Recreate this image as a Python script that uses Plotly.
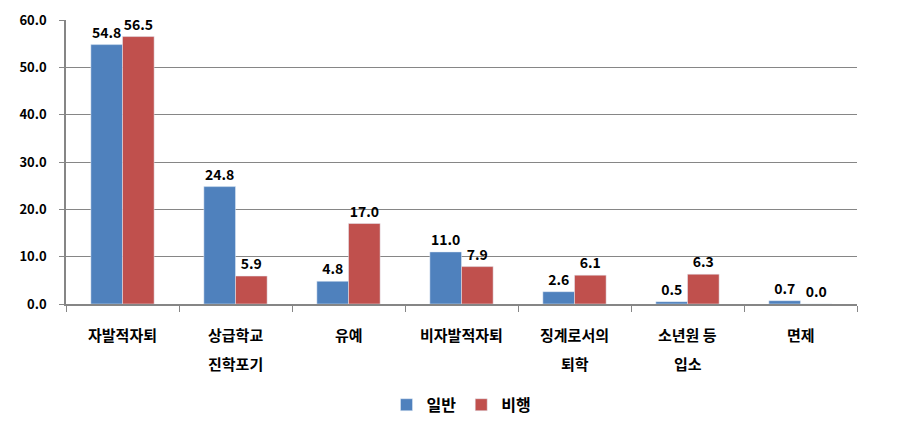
import plotly.graph_objects as go

categories = ["자발적자퇴", "상급학교 진학포기", "유예", "비자발적자퇴", "징계로서의 퇴학", "소년원 등 입소", "면제"]
category_lines = [["자발적자퇴"], ["상급학교", "진학포기"], ["유예"], ["비자발적자퇴"],
                  ["징계로서의", "퇴학"], ["소년원 등", "입소"], ["면제"]]
general = [54.8, 24.8, 4.8, 11.0, 2.6, 0.5, 0.7]
delinquent = [56.5, 5.9, 17.0, 7.9, 6.1, 6.3, 0.0]
y_ticks = [0, 10, 20, 30, 40, 50, 60]

FONT = "Noto Sans CJK KR"

fig = go.Figure()
fig.add_trace(go.Bar(
    name="일반", x=categories, y=general, marker_color="#4F81BD",
    text=[f"{v:.1f}" for v in general], textposition="outside",
    textfont=dict(family=FONT, size=14, color="black", weight="bold"),
    cliponaxis=False,
))
fig.add_trace(go.Bar(
    name="비행", x=categories, y=delinquent, marker_color="#C0504D",
    text=[f"{v:.1f}" for v in delinquent], textposition="outside",
    textfont=dict(family=FONT, size=14, color="black", weight="bold"),
    cliponaxis=False,
))

# x-axis category labels (with wider line spacing as in the reference)
for cat, lines in zip(categories, category_lines):
    for i, line in enumerate(lines):
        fig.add_annotation(
            x=cat, xref="x", y=0, yref="paper", yanchor="middle",
            yshift=-30 - 29 * i, text=line, showarrow=False,
            font=dict(family=FONT, size=15, color="black", weight="bold"),
        )

fig.update_layout(
    width=906, height=426,
    margin=dict(l=58, r=57, t=12, b=126),
    paper_bgcolor="white", plot_bgcolor="white",
    barmode="group", bargap=0.44, bargroupgap=0,
    font=dict(family=FONT, color="black"),
    showlegend=True,
    legend=dict(orientation="h", x=0.5, xanchor="center", y=-0.355, yanchor="middle",
                font=dict(family=FONT, size=16, color="black", weight="bold"),
                itemwidth=30, traceorder="normal"),
    xaxis=dict(
        automargin=False,
        showline=True, linecolor="#868686", linewidth=1.5,
        ticks="outside", tickson="boundaries", ticklen=6, tickcolor="#868686",
        showticklabels=False,
        showgrid=False,
    ),
    yaxis=dict(
        automargin=False,
        range=[0, 60], tickvals=y_ticks, tickformat=".1f",
        showline=True, linecolor="#868686", linewidth=1.5,
        ticks="outside", ticklen=5, tickcolor="#868686",
        ticklabelstandoff=10,
        showgrid=True, gridcolor="#868686", gridwidth=1,
        zeroline=False,
        tickfont=dict(family=FONT, size=13, color="black", weight="bold"),
    ),
)

fig.write_html("out.html")
